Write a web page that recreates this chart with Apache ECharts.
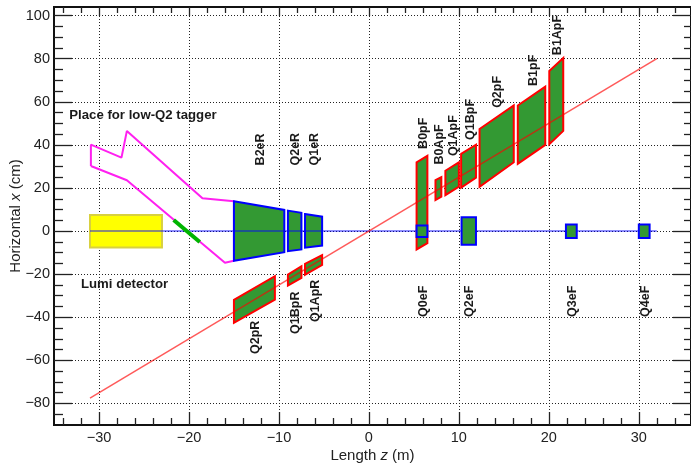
<!DOCTYPE html>
<html>
<head>
<meta charset="utf-8">
<title>IR layout</title>
<script src="https://cdn.jsdelivr.net/npm/echarts@6/dist/echarts.min.js"></script>
<style>
html, body { margin: 0; padding: 0; background: #fff; }
#main { width: 691px; height: 464px; }
</style>
</head>
<body>
<div id="main"></div>
<script>
// tick values
var zMajor = [-30, -20, -10, 0, 10, 20, 30];
var zMinor = [-34, -32, -28, -26, -24, -22, -18, -16, -14, -12, -8, -6, -4, -2, 2, 4, 6, 8, 12, 14, 16, 18, 22, 24, 26, 28, 32, 34];
var xMajor = [-80, -60, -40, -20, 0, 20, 40, 60, 80, 100];
var xMinor = [-85, -75, -70, -65, -55, -50, -45, -35, -30, -25, -15, -10, -5, 5, 10, 15, 25, 30, 35, 45, 50, 55, 65, 70, 75, 85, 90, 95];

// beam lines, [z, x]
var electronBeam = [[-31, 0], [32, 0]];
var protonBeam = [[-31, -77.5], [32, 80]];
var taggerOutline = [[-30.9, 30.2], [-26.9, 23.6], [-16, -14.7], [-15, -13.8], [-15, 13.8], [-18.5, 15.2], [-26.9, 46.5], [-27.5, 34.1], [-30.9, 40.1], [-30.9, 30.2]];
var greenSegment = [[-21.7, 5.1], [-18.8, -5.1]];
var lumiDetector = [[-31, 7.5], [-23, 7.5], [-23, -7.6], [-31, -7.6]];

// electron magnets
var B2eR = [[-15, 13.8], [-9.4, 9.8], [-9.4, -9.8], [-15, -13.8]];
var Q2eR = [[-9, 9.5], [-7.5, 8.5], [-7.5, -8.5], [-9, -9.3]];
var Q1eR = [[-7.1, 7.9], [-5.2, 6.7], [-5.2, -6.7], [-7.1, -7.7]];
var Q0eF = [[5.3, 2.6], [6.5, 2.6], [6.5, -2.8], [5.3, -2.8]];
var Q2eF = [[10.3, 6.4], [11.9, 6.4], [11.9, -6.4], [10.3, -6.4]];
var Q3eF = [[21.9, 3.1], [23.1, 3.1], [23.1, -3.2], [21.9, -3.2]];
var Q4eF = [[30, 3.1], [31.2, 3.1], [31.2, -3.2], [30, -3.2]];

// proton magnets
var Q2pR = [[-15, -31.9], [-10.45, -20.9], [-10.45, -31.8], [-15, -42.6]];
var Q1BpR = [[-9, -20.2], [-7.5, -16.3], [-7.5, -21.7], [-9, -25.3]];
var Q1ApR = [[-7.1, -15.2], [-5.2, -11.2], [-5.2, -15.7], [-7.1, -20.3]];
var B0pF = [[5.3, 31.9], [6.5, 34.9], [6.5, -5.6], [5.3, -8.5]];
var B0ApF = [[7.4, 23.6], [8.05, 25], [8.05, 16], [7.4, 14.4]];
var Q1ApF = [[8.5, 28], [10, 31.9], [10, 20.6], [8.5, 16.7]];
var Q1BpF = [[10.25, 35.8], [11.9, 40.1], [11.9, 24.8], [10.25, 20.2]];
var Q2pF = [[12.3, 47.4], [16.1, 58.3], [16.1, 31.9], [12.3, 20.6]];
var B1pF = [[16.55, 58.3], [19.6, 67], [19.6, 40], [16.55, 31.2]];
var B1ApF = [[20.05, 74.3], [21.6, 80.3], [21.6, 46.5], [20.05, 40.3]];

// rotated magnet names and where they sit
var magnetNames = ['B2eR', 'Q2eR', 'Q1eR', 'Q2pR', 'Q1BpR', 'Q1ApR', 'B0pF', 'B0ApF', 'Q1ApF', 'Q1BpF', 'Q2pF', 'B1pF', 'B1ApF', 'Q0eF', 'Q2eF', 'Q3eF', 'Q4eF'];
var magnetNameZ = [-12.05, -8.15, -6.05, -12.55, -8.1, -5.95, 6.02, 7.9, 9.42, 11.25, 14.35, 18.25, 20.95, 6.02, 11.2, 22.6, 30.75];
var magnetNameX = [37.9, 38, 38, -49.3, -37.9, -32.4, 45.4, 40.2, 44.3, 51.8, 64.6, 74.6, 91, -32.6, -32.6, -32.6, -32.6];

// notes
var noteTexts = ['Place for low-Q2 tagger', 'Lumi detector'];
var notePos = [[-33.3, 53.8], [-32, -24.8]];

var GREEN = '#339933';
var RED = '#ff0000';
var BLUE = '#0000ff';

function polygon(points, fill, stroke, z) {
    return {
        type: 'custom',
        z: z,
        clip: true,
        silent: true,
        data: points,
        renderItem: function(params, api) {
            if (params.dataIndex !== 0) return;
            return {
                type: 'polygon',
                shape: { points: points.map(function(p) { return api.coord(p); }) },
                style: { fill: fill, stroke: stroke, lineWidth: 2 }
            };
        }
    };
}

function line(points, color, width, opacity, z) {
    return {
        type: 'line',
        z: z,
        data: points,
        showSymbol: false,
        silent: true,
        lineStyle: { color: color, width: width, opacity: opacity }
    };
}

function minusSign(v) {
    return String(v).replace('-', '\u2212');
}

function axis(position, min, max, ticks, tickLen, extra) {
    var base = {
        type: 'value',
        position: position,
        min: min,
        max: max,
        axisLine: { show: true, onZero: false, lineStyle: { color: '#111', width: 2 } },
        axisTick: { show: true, inside: true, length: tickLen, customValues: ticks, lineStyle: { color: '#222', width: 1.3 } },
        axisLabel: { show: false, customValues: ticks },
        splitLine: { show: false }
    };
    return Object.assign(base, extra || {});
}

function mainExtra(name, gap, ticks, margin) {
    var t = { fontFamily: 'Liberation Sans', fontSize: 15, color: '#222' };
    return {
        name: name,
        nameLocation: 'middle',
        nameGap: gap,
        nameMoveOverlap: false,
        nameTextStyle: {
            fontFamily: 'Liberation Sans',
            fontSize: 15,
            color: '#222',
            rich: { r: t, i: Object.assign({ fontStyle: 'italic' }, t) }
        },
        axisLabel: {
            show: true,
            customValues: ticks,
            margin: margin,
            formatter: minusSign,
            fontFamily: 'Liberation Sans',
            fontSize: 14.5,
            color: '#222',
            showMinLabel: true,
            showMaxLabel: true
        },
        splitLine: { show: true, lineStyle: { color: '#222', type: [1, 2], width: 1 } }
    };
}

var zMin = -35, zMax = 35.8, xMin = -90, xMax = 104;

var magnetNameSeries = {
    type: 'custom',
    z: 20,
    clip: false,
    silent: true,
    data: magnetNames.map(function(n, i) { return [magnetNameZ[i], magnetNameX[i]]; }),
    renderItem: function(params, api) {
        var c = api.coord([api.value(0), api.value(1)]);
        return {
            type: 'text',
            x: c[0],
            y: c[1],
            rotation: Math.PI / 2,
            style: {
                text: magnetNames[params.dataIndex],
                font: 'bold 12.5px "Liberation Sans"',
                fill: '#1a1a1a',
                align: 'center',
                verticalAlign: 'middle'
            }
        };
    }
};

var noteSeries = {
    type: 'custom',
    z: 20,
    clip: false,
    silent: true,
    data: notePos,
    renderItem: function(params, api) {
        var c = api.coord([api.value(0), api.value(1)]);
        return {
            type: 'text',
            x: c[0],
            y: c[1],
            style: {
                text: noteTexts[params.dataIndex],
                font: 'bold 13.2px "Liberation Sans"',
                fill: '#1a1a1a',
                align: 'left',
                verticalAlign: 'middle'
            }
        };
    }
};

var myChart = echarts.init(document.getElementById('main'));

var option = {
    animation: false,
    backgroundColor: '#fff',
    grid: { left: 54, top: 7, width: 637, height: 418, outerBoundsMode: 'none' },
    xAxis: [
        axis('bottom', zMin, zMax, zMajor, 13, mainExtra('{r|Length }{i|z}{r| (m)}', 23, zMajor, 5)),
        axis('bottom', zMin, zMax, zMinor, 7),
        axis('top', zMin, zMax, zMajor, 9),
        axis('top', zMin, zMax, zMinor, 6)
    ],
    yAxis: [
        axis('left', xMin, xMax, xMajor, 18, mainExtra('{r|Horizontal }{i|x}{r| (cm)}', 31, xMajor, 4)),
        axis('left', xMin, xMax, xMinor, 9),
        axis('right', xMin, xMax, xMajor, 18),
        axis('right', xMin, xMax, xMinor, 7)
    ],
    series: [
        polygon(lumiDetector, '#ffff00', '#d8d040', 2),
        line(taggerOutline, '#ff20f0', 2, 1, 3),
        polygon(B2eR, GREEN, BLUE, 4),
        polygon(Q2eR, GREEN, BLUE, 4),
        polygon(Q1eR, GREEN, BLUE, 4),
        polygon(Q2pR, GREEN, RED, 4),
        polygon(Q1BpR, GREEN, RED, 4),
        polygon(Q1ApR, GREEN, RED, 4),
        polygon(B0pF, GREEN, RED, 4),
        polygon(B0ApF, GREEN, RED, 4),
        polygon(Q1ApF, GREEN, RED, 4),
        polygon(Q1BpF, GREEN, RED, 4),
        polygon(Q2pF, GREEN, RED, 4),
        polygon(B1pF, GREEN, RED, 4),
        polygon(B1ApF, GREEN, RED, 4),
        line(electronBeam, BLUE, 1.5, 0.6, 5),
        line(protonBeam, RED, 1.5, 0.65, 5),
        polygon(Q0eF, GREEN, BLUE, 6),
        polygon(Q2eF, GREEN, BLUE, 6),
        polygon(Q3eF, GREEN, BLUE, 6),
        polygon(Q4eF, GREEN, BLUE, 6),
        line(greenSegment, '#00b400', 4, 1, 7),
        magnetNameSeries,
        noteSeries
    ]
};

myChart.setOption(option);
</script>
</body>
</html>
